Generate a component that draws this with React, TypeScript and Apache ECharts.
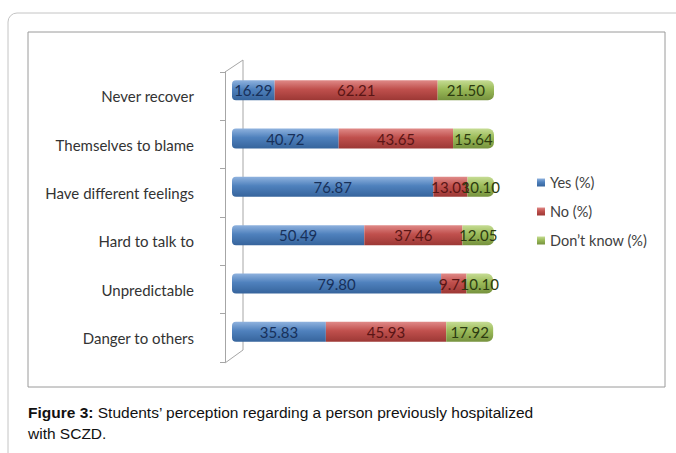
import React, { useEffect, useRef } from "react";
import * as echarts from "echarts";

const categories = [
  "Danger to others",
  "Unpredictable",
  "Hard to talk to",
  "Have different feelings",
  "Themselves to blame",
  "Never recover",
];
const yesValues = [35.83, 79.8, 50.49, 76.87, 40.72, 16.29];
const noValues = [45.93, 9.71, 37.46, 13.03, 43.65, 62.21];
const dontKnowValues = [17.92, 10.1, 12.05, 10.1, 15.64, 21.5];
const seriesNames = ["Yes (%)", "No (%)", "Don\u2019t know (%)"];

const grad = (top: string, mid: string, bot: string) =>
  new echarts.graphic.LinearGradient(0, 0, 0, 1, [
    { offset: 0, color: top },
    { offset: 0.45, color: mid },
    { offset: 1, color: bot },
  ]);

export default function App() {
  const ref = useRef<HTMLDivElement>(null);
  useEffect(() => {
    if (!ref.current) return;
    const chart = echarts.init(ref.current, null, { renderer: "svg" });
    const labelFont = "Lato, 'Open Sans', sans-serif";
    const mkLabel = (color: string) => ({
      show: true,
      position: "inside" as const,
      color,
      fontFamily: labelFont,
      fontSize: 15,
      formatter: (p: any) => Number(p.value).toFixed(2),
    });
    chart.setOption({
      animation: false,
      backgroundColor: "#ffffff",
      grid: [
        { left: 225, top: 72, width: 1, height: 290 },
        { left: 232, top: 66, width: 262, height: 290 },
      ],
      xAxis: [
        { type: "value", gridIndex: 0, min: 0, max: 1, show: false },
        { type: "value", gridIndex: 1, min: 0, max: 100, show: false },
      ],
      yAxis: [
        {
          type: "category",
          gridIndex: 0,
          data: categories,
          axisLine: { show: true, lineStyle: { color: "#a6a6a6", width: 1 } },
          axisTick: { show: true, length: 5, lineStyle: { color: "#a6a6a6" } },
          axisLabel: {
            margin: 31,
            color: "#333333",
            fontFamily: labelFont,
            fontSize: 15,
          },
        },
        {
          type: "category",
          gridIndex: 1,
          data: categories,
          show: false,
        },
      ],
      legend: {
        orient: "vertical",
        left: 532,
        top: 170,
        itemWidth: 8,
        itemHeight: 8,
        itemGap: 14,
        icon: "rect",
        data: seriesNames,
        textStyle: { color: "#404040", fontFamily: labelFont, fontSize: 14.5 },
      },
      series: [
        {
          name: seriesNames[0],
          type: "bar",
          stack: "s",
          xAxisIndex: 1,
          yAxisIndex: 1,
          barWidth: 20,
          data: yesValues,
          itemStyle: { color: grad("#8fb2de", "#4f81bd", "#36649c"), borderRadius: [4, 0, 0, 4] },
          label: mkLabel("#17305a"),
        },
        {
          name: seriesNames[1],
          type: "bar",
          stack: "s",
          xAxisIndex: 1,
          yAxisIndex: 1,
          barWidth: 20,
          data: noValues,
          itemStyle: { color: grad("#e08a88", "#c0504d", "#9c3835") },
          label: mkLabel("#5a1515"),
        },
        {
          name: seriesNames[2],
          type: "bar",
          stack: "s",
          xAxisIndex: 1,
          yAxisIndex: 1,
          barWidth: 20,
          data: dontKnowValues,
          itemStyle: { color: grad("#c6dc94", "#9bbb59", "#76923e"), borderRadius: [0, 6, 6, 0] },
          label: mkLabel("#2c3b10"),
        },
      ],
      graphic: [
        {
          type: "rect",
          shape: { x: 8, y: 13, width: 720, height: 500, r: 9 },
          style: { fill: "none", stroke: "#c4c4c4", lineWidth: 1 },
          silent: true,
        },
        {
          type: "rect",
          shape: { x: 28, y: 32, width: 637, height: 355 },
          style: { fill: "none", stroke: "#9a9a9a", lineWidth: 1 },
          silent: true,
        },
        {
          type: "polyline",
          shape: { points: [[225, 72], [243, 60], [243, 350], [225, 363]] },
          style: { fill: "none", stroke: "#a6a6a6", lineWidth: 1 },
          silent: true,
          z: -1,
        },
        {
          type: "text",
          left: 28,
          top: 402,
          style: {
            text: "{b|Figure 3:} Students\u2019 perception regarding a person previously hospitalized\nwith SCZD.",
            fontFamily: "'Liberation Sans', Arial, sans-serif",
            fontSize: 15.5,
            lineHeight: 21,
            fill: "#111111",
            rich: {
              b: {
                fontWeight: "bold",
                fontFamily: "'Liberation Sans', Arial, sans-serif",
                fontSize: 15.5,
                fill: "#111111",
              },
            },
          },
        },
      ],
    });
    return () => chart.dispose();
  }, []);
  return (
    <div
      ref={ref}
      style={{ position: "fixed", left: 0, top: 0, width: 676, height: 453 }}
    />
  );
}
